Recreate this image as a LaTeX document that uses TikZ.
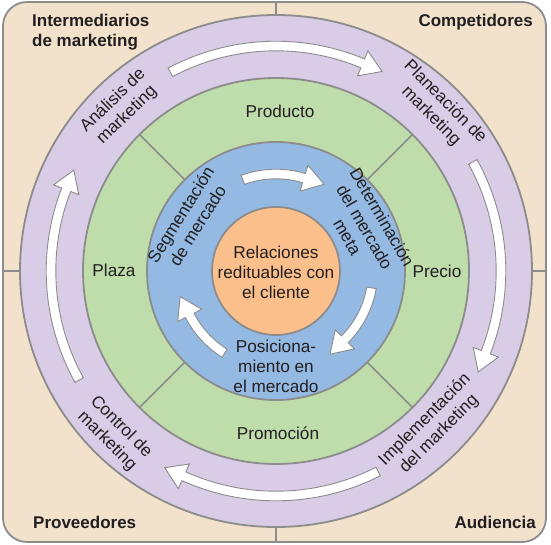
\documentclass[tikz,border=0pt]{standalone}
\usepackage{fontspec}
\setmainfont{Liberation Sans}
\usetikzlibrary{calc}
\definecolor{beige}{RGB}{242,226,204}
\definecolor{lilac}{RGB}{216,204,230}
\definecolor{leaf}{RGB}{190,221,170}
\definecolor{sky}{RGB}{148,186,227}
\definecolor{peach}{RGB}{251,191,140}
\definecolor{edge}{RGB}{140,140,140}
\definecolor{ink}{RGB}{35,31,32}
\def\aw{4.8}
\def\ah{13.5}
\def\al{21}
\newcommand\circarrow[3]{%
  \pgfmathsetmacro\myRa{#1+\aw}%
  \pgfmathsetmacro\myRb{#1-\aw}%
  \pgfmathsetmacro\myRh{#1+\ah}%
  \pgfmathsetmacro\myRl{#1-\ah}%
  \pgfmathsetmacro\myTb{#3+atan(\al/#1)}%
  \pgfmathsetmacro\myTt{\myTb-90}%
  \filldraw[arrowshape] (#2:\myRa pt) arc[start angle=#2, end angle=\myTb, radius=\myRa pt]
    -- (\myTb:\myRh pt) -- ($(\myTb:#1pt)+(\myTt:\al pt)$) -- (\myTb:\myRl pt)
    -- (\myTb:\myRb pt) arc[start angle=\myTb, end angle=#2, radius=\myRb pt] -- cycle;
}
\begin{document}
\begin{tikzpicture}[x=1pt,y=1pt,
  ringline/.style={draw=edge, line width=1.8pt},
  divline/.style={draw=edge, line width=1.5pt},
  arrowshape/.style={fill=white, draw=edge, line width=0.9pt, line join=miter},
  lbl/.style={font=\fontsize{17.2}{20}\selectfont, text=ink, align=center, inner sep=0pt},
  cornerlbl/.style={font=\bfseries\fontsize{17}{20}\selectfont, text=ink, inner sep=0pt, align=left},
]
\useasboundingbox (-276,-273) rectangle (275,271);
\path[fill=beige, draw=edge, line width=1.8pt, rounded corners=24pt] (-273,-271) rectangle (270,269);
% quadrant dividers
\coordinate (dt) at (0,269); \coordinate (db) at (0,-271);
\coordinate (dl) at (-273,0); \coordinate (dr) at (270,0);
\draw[divline] (dt) -- (0,256);
\draw[divline] (db) -- (0,-256);
\draw[divline] (dl) -- (-256,0);
\draw[divline] (dr) -- (256,0);
% rings
\draw[ringline, fill=lilac] (0,0) circle[radius=256];
\draw[ringline, fill=leaf] (0,0) circle[radius=193];
\foreach \a in {45,135,225,315} \draw[divline] (\a:129pt) -- (\a:193pt);
\draw[ringline, fill=sky] (0,0) circle[radius=129];
\draw[ringline, fill=peach] (0,0) circle[radius=64];
% arrows outer
\circarrow{225}{118}{62}
\circarrow{225}{29}{-26.5}
\circarrow{225}{-63}{-119.5}
\circarrow{225}{209}{153.5}
% arrows inner
\circarrow{97}{110}{61}
\circarrow{97}{-10}{-57}
\circarrow{97}{-122}{-165}
% corner labels
\node[cornerlbl, anchor=west] (inter) at (-244,239) {Intermediarios\\de marketing};
\node[cornerlbl, anchor=east] (comp) at (257,249) {Competidores};
\node[cornerlbl, anchor=west] (prov) at (-243,-251) {Proveedores};
\node[cornerlbl, anchor=east] (aud) at (260,-251) {Audiencia};
% purple ring labels
\node[lbl, rotate=44] (analisis) at (-156,163) {Análisis de\\marketing};
\node[lbl, rotate=-45] (planea) at (162,162) {Planeación de\\marketing};
\node[lbl, rotate=45] (impl) at (156,-156) {Implementación\\del marketing};
\node[lbl, rotate=-45] (control) at (-162,-163) {Control de\\marketing};
% green labels
\node[lbl] (producto) at (4,160) {Producto};
\node[lbl] (precio) at (161,0) {Precio};
\node[lbl] (promo) at (2,-162) {Promoción};
\node[lbl] (plaza) at (-162,1) {Plaza};
% blue labels
\node[lbl, rotate=58] (segm) at (-87,51) {Segmentación\\de mercado};
\node[lbl, rotate=-60] (deter) at (89,44) {Determinación\\del mercado\\meta};
\node[lbl] (posic) at (0,-95) {Posiciona-\\miento en\\el mercado};
% center
\node[lbl] (rel) at (0,-1) {Relaciones\\redituables con\\el cliente};
\end{tikzpicture}
\end{document}
